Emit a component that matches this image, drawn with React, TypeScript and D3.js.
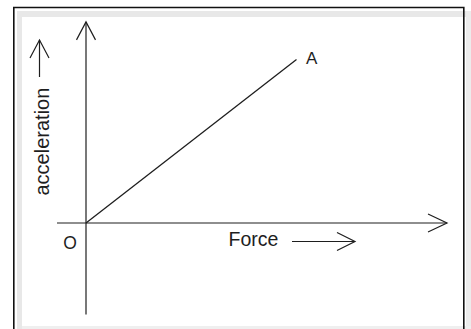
import React from "react";
import * as d3 from "d3";

// Data: straight line O -> A (acceleration proportional to force)
const forceValues = [0, 10];
const accelValues = [0, 10];
const pointLabels = ["O", "A"];
// axis extents in data units (negative part visible past the origin)
const forceExtent = [-1.38, 17.15];
const accelExtent = [-5.6, 12.3];
const xLabel = "Force";
const yLabel = "acceleration";

const W = 471;
const H = 329;
const INK = "#1e1e1e";
const FONT = "'Liberation Sans', Arial, Helvetica, sans-serif";

export default function App() {
  const x = d3.scaleLinear().domain([0, 10]).range([86, 296.5]);
  const y = d3.scaleLinear().domain([0, 10]).range([223, 59.5]);

  const pts: [number, number][] = forceValues.map((f, i) => [x(f), y(accelValues[i])]);
  const line = d3.line<[number, number]>()(pts) || "";

  const x0 = x(0);
  const y0 = y(0);
  const xL = x(forceExtent[0]);
  const xR = x(forceExtent[1]);
  const yB = y(accelExtent[0]);
  const yT = y(accelExtent[1]);

  const chevron = (tx: number, ty: number, dir: "up" | "right", len: number, hw: number) => {
    if (dir === "up") return `M${tx - hw},${ty + len}L${tx},${ty}L${tx + hw},${ty + len}`;
    return `M${tx - len},${ty - hw}L${tx},${ty}L${tx - len},${ty + hw}`;
  };

  const end = pts[1];

  return (
    <svg
      width={W}
      height={H}
      viewBox={`0 0 ${W} ${H}`}
      style={{ position: "absolute", left: 0, top: 0, background: "#fff" }}
    >
      {/* frame */}
      <rect x={0} y={0} width={W} height={H} fill="#fff" />
      <rect x={17} y={11} width={W - 17} height={6} fill="#e8e8e8" />
      <rect x={17} y={11} width={5} height={H - 11} fill="#e8e8e8" />
      <rect x={466} y={11} width={5} height={H - 11} fill="#ececec" />
      <rect x={22} y={326} width={W - 22} height={3} fill="#efefef" />
      <path d={`M13.8,${H + 5}V7.5H463.8V${H + 5}`} fill="none" stroke="#111" strokeWidth={1.6} />

      {/* axes */}
      <line x1={xL} y1={y0} x2={xR} y2={y0} stroke={INK} strokeWidth={1.2} />
      <path d={chevron(xR, y0, "right", 19, 9)} fill="none" stroke={INK} strokeWidth={1.2} />
      <line x1={x0} y1={yB} x2={x0} y2={yT} stroke={INK} strokeWidth={1.2} />
      <path d={chevron(x0, yT, "up", 18, 9.5)} fill="none" stroke={INK} strokeWidth={1.2} />

      {/* O -> A line */}
      <path d={line} fill="none" stroke={INK} strokeWidth={1.3} />

      {/* point labels */}
      <text x={x0 - 16} y={y0 + 26} fontFamily={FONT} fontSize={17.5} fill={INK} textAnchor="middle">
        {pointLabels[0]}
      </text>
      <text x={end[0] + 9.5} y={end[1] + 4.5} fontFamily={FONT} fontSize={17} fill={INK}>
        {pointLabels[1]}
      </text>

      {/* x label with arrow */}
      <text x={228.5} y={245.8} fontFamily={FONT} fontSize={19.5} fill={INK}>
        {xLabel}
      </text>
      <line x1={292} y1={241.5} x2={355} y2={241.5} stroke={INK} strokeWidth={1.2} />
      <path d={chevron(355, 241.5, "right", 18, 9)} fill="none" stroke={INK} strokeWidth={1.2} />

      {/* y label with arrow */}
      <text
        transform={`translate(48.5,195.5) rotate(-90)`}
        fontFamily={FONT}
        fontSize={20}
        fill={INK}
      >
        {yLabel}
      </text>
      <line x1={39.5} y1={77} x2={39.5} y2={40} stroke={INK} strokeWidth={1.2} />
      <path d={chevron(39.5, 40, "up", 18, 9.5)} fill="none" stroke={INK} strokeWidth={1.2} />
    </svg>
  );
}
